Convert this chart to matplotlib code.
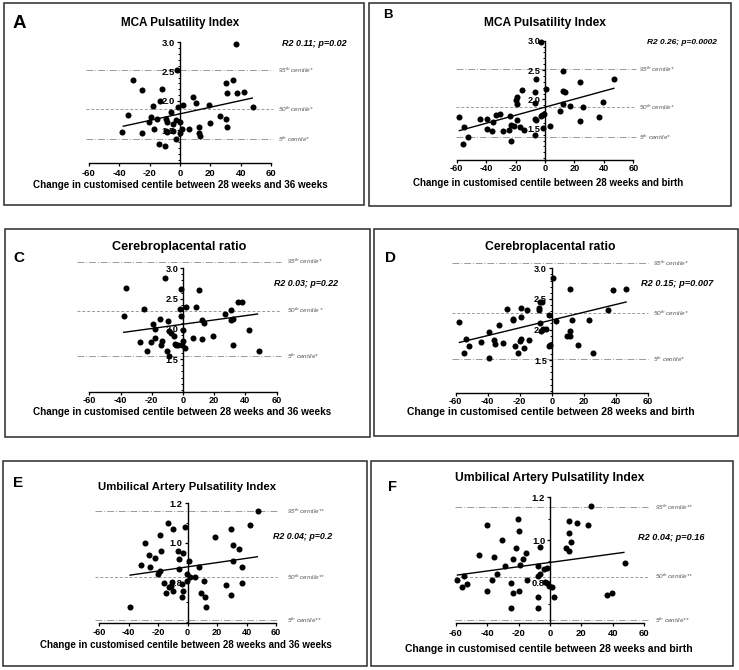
import numpy as np
import matplotlib
matplotlib.use('Agg')
import matplotlib.pyplot as plt
from matplotlib.patches import Rectangle
from matplotlib.ticker import MultipleLocator

plt.rcParams['font.family'] = ['Liberation Sans', 'DejaVu Sans']
plt.rcParams['mathtext.fontset'] = 'custom'
plt.rcParams['mathtext.rm'] = 'Liberation Sans'
plt.rcParams['mathtext.it'] = 'Liberation Sans:italic'

# ---------------- data ----------------
a_x = [37, -2.2, -30.8, -24.8, -11.9, -13.2, -17.8, -34.1, -19.1, -14.9, -20.4, -17.1, -38, -24.8, -9.5,
       -8.8, -5.9, -9.2, -8.8, -13.8, -9.9, -4.6, -4.4, -2.9, -2.9, -1.1, 0, 0, 1.1, 2.2, 6.2, 8.4, 10.3,
       12.3, 12.5, 13.2, 19.3, 20, 26.4, 30.1, 31.2, 30.3, 31.2, 35.2, 37.4, 42.4, 48.4]
a_y = [2.97, 2.52, 2.36, 2.18, 2.20, 2.00, 1.92, 1.76, 1.72, 1.70, 1.65, 1.53, 1.47, 1.45, 1.70,
       1.65, 1.81, 1.49, 1.47, 1.27, 1.24, 1.49, 1.60, 1.68, 1.35, 1.89, 1.65, 1.46, 1.53, 1.94, 1.52, 2.06, 1.97,
       1.55, 1.46, 1.40, 1.93, 1.63, 1.75, 2.30, 2.13, 1.69, 1.56, 2.36, 2.14, 2.15, 1.89]
a_fit_x = [-37.4, 47.7]
a_fit_y = [1.57, 2.05]
a_centiles = [2.52, 1.864, 1.347]

b_x = [-2.8, -58.6, -54.8, -52.5, -55.5, -44.5, -39.3, -39.3, -36.1, -35, -33.2, -30.5, -28.2, -24.5, -24.1,
       -23.2, -23.4, -21.4, -20, -19.1, -19.1, -19.1, -17.3, -15.5, -14.1, -7, -5.9, -6.8, -7, -5.9, -7, -3,
       -1.8, -0.9, -1.4, 0.9, 3.2, 10, 12.3, 12.3, 13.4, 12.3, 17, 24.1, 24.1, 25.9, 36.4, 39.3, 47]
b_y = [2.97, 1.70, 1.53, 1.36, 1.25, 1.66, 1.66, 1.49, 1.47, 1.62, 1.73, 1.76, 1.46, 1.48, 1.72,
       1.57, 1.29, 1.55, 1.99, 2.05, 1.92, 1.65, 1.53, 2.16, 1.48, 2.125, 2.34, 1.94, 1.67, 1.65, 1.40, 1.72,
       1.74, 1.76, 1.51, 2.18, 1.55, 1.81, 2.48, 2.14, 2.125, 1.93, 1.89, 2.30, 1.64, 1.875, 1.70, 1.96, 2.34]
b_fit_x = [-58.2, 46.8]
b_fit_y = [1.47, 2.19]
b_centiles = [2.51, 1.87, 1.36]

c_x = [-37.9, -36.8, -25, -27.8, -19, -18.2, -18.2, -20.8, -22.9, -14.8, -13.3, -13.9, -11.8, -9.6, -9,
       -10, -9, -7.9, -5.8, -4.9, -4.3, -3, -2.1, -1.5, -1.5, 0, 0.2, -0.5, 1.3, 2.1, 6.2, 8.6, 10.5, 12.4,
       12.4, 13.5, 19.5, 26.6, 30.6, 30.6, 31.7, 31.7, 35.3, 37.5, 42.4, 48.4]
c_y = [2.21, 2.67, 2.33, 1.78, 2.08, 2.0, 1.85, 1.79, 1.63, 2.16, 1.80, 1.73, 2.84, 2.13, 1.96,
       1.63, 1.56, 1.93, 1.89, 1.76, 1.74, 1.74, 2.33, 2.66, 2.21, 1.98, 1.80, 1.74, 1.69, 2.36, 1.85, 2.36, 2.64, 1.83,
       2.15, 2.10, 1.88, 2.24, 2.32, 2.15, 2.16, 1.74, 2.44, 2.45, 1.98, 1.63]
c_fit_x = [-37.9, 47.7]
c_fit_y = [1.945, 2.247]
c_centiles = [3.11, 2.30, 1.555]

d_x = [-58.1, -54.8, -53.8, -51.9, -44, -39, -39, -36, -35.2, -33.1, -30.2, -28.1, -24, -24, -23.1, -21,
       -20, -19.4, -19.2, -19.2, -17.5, -15.2, -14.4, -7.7, -7.7, -7.3, -6, -7.3, -6.5, -5.2, -3.5, -1.5,
       -1.5, -1.0, 0.8, 2.7, 9.4, 11.5, 11.5, 11.7, 12.5, 16.7, 23.3, 25.6, 35.2, 38.5, 46.3]
d_y = [2.13, 1.61, 1.85, 1.74, 1.79, 1.96, 1.54, 1.83, 1.77, 2.08, 1.78, 2.34, 2.18, 2.15, 1.73, 1.61,
       1.82, 1.85, 2.36, 2.21, 1.70, 2.32, 1.83, 2.32, 2.36, 2.45, 2.45, 2.10, 1.98, 2.01, 2.01, 2.24,
       1.73, 1.75, 2.84, 2.14, 1.90, 1.89, 1.98, 2.66, 2.16, 1.75, 2.15, 1.61, 2.32, 2.65, 2.66]
d_fit_x = [-57.7, 46.5]
d_fit_y = [1.79, 2.45]
d_centiles = [3.08, 2.27, 1.52]

e_x = [48, -13.6, -9.7, -1.8, -29, -18.8, -17.9, -26, -21.9, -31.9, -25.8, -19.9, -18.8, -6.8, -2.9, -5.9,
       -5.7, 0.7, -0.7, 1.6, 5, 7.7, -0.7, -3.6, -2.9, -3.8, -15.8, -12.7, -11.5, -10.9, -9.7, -14.9, -39.1,
       11.3, 9.3, 11.5, 12.7, 18.8, 25.8, 29.6, 30.5, 31, 29.6, 34.6, 36.7, 36.9, 42.1]
e_y = [1.161, 1.098, 1.068, 1.078, 1.0, 1.037, 0.959, 0.937, 0.925, 0.886, 0.878, 0.841, 0.858, 0.959, 0.949, 0.917,
       0.869, 0.908, 0.841, 0.827, 0.827, 0.878, 0.807, 0.790, 0.756, 0.725, 0.797, 0.776, 0.780, 0.802, 0.756, 0.746, 0.675,
       0.807, 0.746, 0.725, 0.675, 1.027, 0.788, 1.068, 0.988, 0.908, 0.737, 0.970, 0.878, 0.797, 1.09]
e_fit_x = [-39.1, 47.3]
e_fit_y = [0.836, 0.929]
e_centiles = [1.161, 0.827, 0.607]

f_x = [-58.9, -55.9, -54.7, -52.5, -44.9, -39.8, -39.8, -36.7, -35.6, -33.7, -30.5, -28.6, -24.8, -24.6, -23.7,
       -23.3, -21.6, -20.6, -19.5, -19.3, -19.5, -17.4, -15.5, -14.4, -7.4, -7.6, -6.4, -6.4, -7.4, -7.4, -3.8,
       -2.1, -3.2, -1.7, -0.4, 1.1, 2.8, 10, 12.1, 11.9, 12.1, 13.1, 16.9, 24.2, 25.8, 36, 39.2, 47.7]
f_y = [0.8125, 0.781, 0.831, 0.792, 0.930, 1.070, 0.762, 0.8125, 0.922, 0.841, 1.0, 0.880, 0.80, 0.681, 0.75,
       0.911, 0.961, 1.098, 1.041, 0.881, 0.7625, 0.911, 0.941, 0.8125, 0.880, 0.831, 0.841, 0.969, 0.731, 0.681, 0.863,
       0.870, 0.802, 0.797, 0.786, 0.781, 0.731, 0.961, 0.95, 1.091, 1.031, 0.991, 1.081, 1.070, 1.161, 0.742, 0.753, 0.891]
f_fit_x = [-58.9, 47]
f_fit_y = [0.836, 0.942]
f_centiles = [1.153, 0.828, 0.625]

letters = ['A', 'B', 'C', 'D', 'E', 'F']
titles = ['MCA Pulsatility Index', 'MCA Pulsatility Index', 'Cerebroplacental ratio',
          'Cerebroplacental ratio', 'Umbilical Artery Pulsatility Index', 'Umbilical Artery Pulsatility Index']
xlabels = ['Change in customised centile between 28 weeks and 36 weeks',
           'Change in customised centile between 28 weeks and birth'] * 3
r2_texts = ['R2 0.11; p=0.02', 'R2 0.26; p=0.0002', 'R2 0.03; p=0.22',
            'R2 0.15; p=0.007', 'R2 0.04; p=0.2', 'R2 0.04; p=0.16']
x_ticks = [-60, -40, -20, 0, 20, 40, 60]
y_ticks_top = [1.5, 2.0, 2.5, 3.0]
y_ticks_bottom = [0.8, 1.0, 1.2]
cent_labels_1 = [r'95$^{\mathit{th}}$ centile*', r'50$^{\mathit{th}}$ centile*', r'5$^{\mathit{th}}$ centile*']
cent_labels_c = [r'95$^{\mathit{th}}$ centile*', r'50$^{\mathit{th}}$ centile *', r'5$^{\mathit{th}}$ centile*']
cent_labels_2 = [r'95$^{\mathit{th}}$ centile**', r'50$^{\mathit{th}}$ centile**', r'5$^{\mathit{th}}$ centile**']

# ---------------- layout ----------------
W, H = 739, 670
fig = plt.figure(figsize=(W / 100, H / 100), dpi=100)
fig.patch.set_facecolor('white')
renderer = fig.canvas.get_renderer()


def fx(p):
    return p / W


def fy(p):
    return 1 - p / H


def fit_width(t, target):
    bb = t.get_window_extent(renderer=renderer)
    t.set_fontsize(t.get_fontsize() * target / bb.width)


panels = [
    dict(x=a_x, y=a_y, fx_=a_fit_x, fy_=a_fit_y, cent=a_centiles, clab=cent_labels_1, yt=y_ticks_top,
         box=(4, 3, 364, 205), ax=(89, 271, 42.3, 162.6), ylim=(0.95, 3.0), minor=0.1, tick=(6.8, 2.0),
         letter=(13, 23, 13.5), title=(180, 23, 118), r2=(347, 43, 65), xl=(180, 185, 297),
         span=(-62, 61.5), labx=64.6),
    dict(x=b_x, y=b_y, fx_=b_fit_x, fy_=b_fit_y, cent=b_centiles, clab=cent_labels_1, yt=y_ticks_top,
         box=(369, 3, 731, 206), ax=(456.7, 633.3, 40.7, 160), ylim=(0.97, 3.0), minor=0.1, tick=(6.6, 0.5),
         letter=(383, 15, 9.5), title=(545, 23, 122), r2=(716.7, 42.3, 70), xl=(548, 183, 270),
         span=(-60.5, 62), labx=63.9),
    dict(x=c_x, y=c_y, fx_=c_fit_x, fy_=c_fit_y, cent=c_centiles, clab=cent_labels_c, yt=y_ticks_top,
         box=(5, 229, 370, 437), ax=(89.3, 276.7, 268.3, 391.7), ylim=(0.967, 3.0), minor=0.1, tick=(6.6, 0.6),
         letter=(13, 258, 11), title=(179, 246.7, 135), r2=(338, 283.3, 65), xl=(182, 411.7, 302),
         span=(-68, 62.5), labx=66.6),
    dict(x=d_x, y=d_y, fx_=d_fit_x, fy_=d_fit_y, cent=d_centiles, clab=cent_labels_1, yt=y_ticks_top,
         box=(374, 229, 738, 436), ax=(455.7, 647.7, 268.3, 393.3), ylim=(0.96, 3.0), minor=0.1, tick=(6.6, 0.3),
         letter=(385, 258, 11), title=(550, 246.7, 130), r2=(713, 283.3, 73), xl=(550.7, 412.5, 288),
         span=(-62.5, 60.4), labx=63.3),
    dict(x=e_x, y=e_y, fx_=e_fit_x, fy_=e_fit_y, cent=e_centiles, clab=cent_labels_2, yt=y_ticks_bottom,
         box=(3, 461, 367, 666), ax=(99.3, 276, 503.3, 622.7), ylim=(0.595, 1.2), minor=0.1, tick=(6.6, 1.4),
         letter=(13, 483.3, 11), title=(186.7, 486.7, 177), r2=(331.7, 536.7, 60), xl=(186.3, 645, 293),
         span=(-62.9, 60.4), labx=67.2),
    dict(x=f_x, y=f_y, fx_=f_fit_x, fy_=f_fit_y, cent=f_centiles, clab=cent_labels_2, yt=y_ticks_bottom,
         box=(371, 461, 733, 666), ax=(455.7, 644.3, 497.3, 623.3), ylim=(0.61, 1.2), minor=0.1, tick=(6.8, 1.8),
         letter=(388, 486.7, 10.5), title=(549.3, 478.3, 189), r2=(705, 537.7, 66), xl=(549, 649, 288),
         span=(-60.4, 62.5), labx=66.8),
]

cent_styles = [(0, (7, 2, 1, 2)), (0, (3, 2)), (0, (7, 2, 1, 2))]

for i, p in enumerate(panels):
    x0, y0, x1, y1 = p['box']
    fig.add_artist(Rectangle((fx(x0), fy(y1)), (x1 - x0) / W, (y1 - y0) / H, transform=fig.transFigure,
                             fill=False, lw=1.1, ec='#2a2a2a'))
    xl, xr, yt, yb = p['ax']
    ax = fig.add_axes([fx(xl), fy(yb), (xr - xl) / W, (yb - yt) / H])
    ax.set_facecolor('none')
    ax.set_xlim(-60, 60)
    ax.set_ylim(*p['ylim'])
    for s in ('top', 'right'):
        ax.spines[s].set_visible(False)
    ax.spines['left'].set_position(('data', 0))
    ax.spines['left'].set_linewidth(1.0)
    ax.spines['bottom'].set_linewidth(1.0)
    ax.set_xticks(x_ticks)
    ax.set_xticklabels([str(v) for v in x_ticks])
    ax.set_yticks(p['yt'])
    ax.set_yticklabels(['%.1f' % v for v in p['yt']])
    ax.yaxis.set_minor_locator(MultipleLocator(p['minor']))
    lsz, pad = p['tick']
    ax.tick_params(axis='x', which='major', direction='out', length=2.3, width=0.9, pad=pad,
                   labelsize=lsz, colors='black')
    ax.tick_params(axis='y', which='major', direction='out', length=2.5, width=0.9, pad=1.0,
                   labelsize=lsz, colors='black')
    ax.tick_params(axis='y', which='minor', direction='out', length=1.5, width=0.7)
    for lab in ax.get_xticklabels() + ax.get_yticklabels():
        lab.set_fontweight('bold')

    # centile reference lines
    for v, ls, lab in zip(p['cent'], cent_styles, p['clab']):
        ax.plot(p['span'], [v, v], color='#9a9a9a', lw=0.7, ls=ls, clip_on=False, zorder=1)
        ax.text(p['labx'], v, lab, fontsize=4.6, style='italic', color='#555555', va='center', ha='left',
                clip_on=False)

    ax.scatter(p['x'], p['y'], s=19, color='black', zorder=4, clip_on=False, linewidths=0)
    ax.plot(p['fx_'], p['fy_'], color='black', lw=1.0, zorder=3)

    lx, ly, ls_ = p['letter']
    fig.text(fx(lx), fy(ly), letters[i], fontsize=ls_, fontweight='bold', ha='left', va='center')
    tx, ty, tw = p['title']
    t = fig.text(fx(tx), fy(ty), titles[i], fontsize=8.5, fontweight='bold', ha='center', va='center')
    fit_width(t, tw)
    rx, ry, rw = p['r2']
    t = fig.text(fx(rx), fy(ry), r2_texts[i], fontsize=6, fontweight='bold', style='italic',
                 ha='right', va='center')
    fit_width(t, rw)
    xx, xy, xw = p['xl']
    t = fig.text(fx(xx), fy(xy), xlabels[i], fontsize=7, fontweight='bold', ha='center', va='center')
    fit_width(t, xw)

fig.savefig('out.png', dpi=100, facecolor='white')
